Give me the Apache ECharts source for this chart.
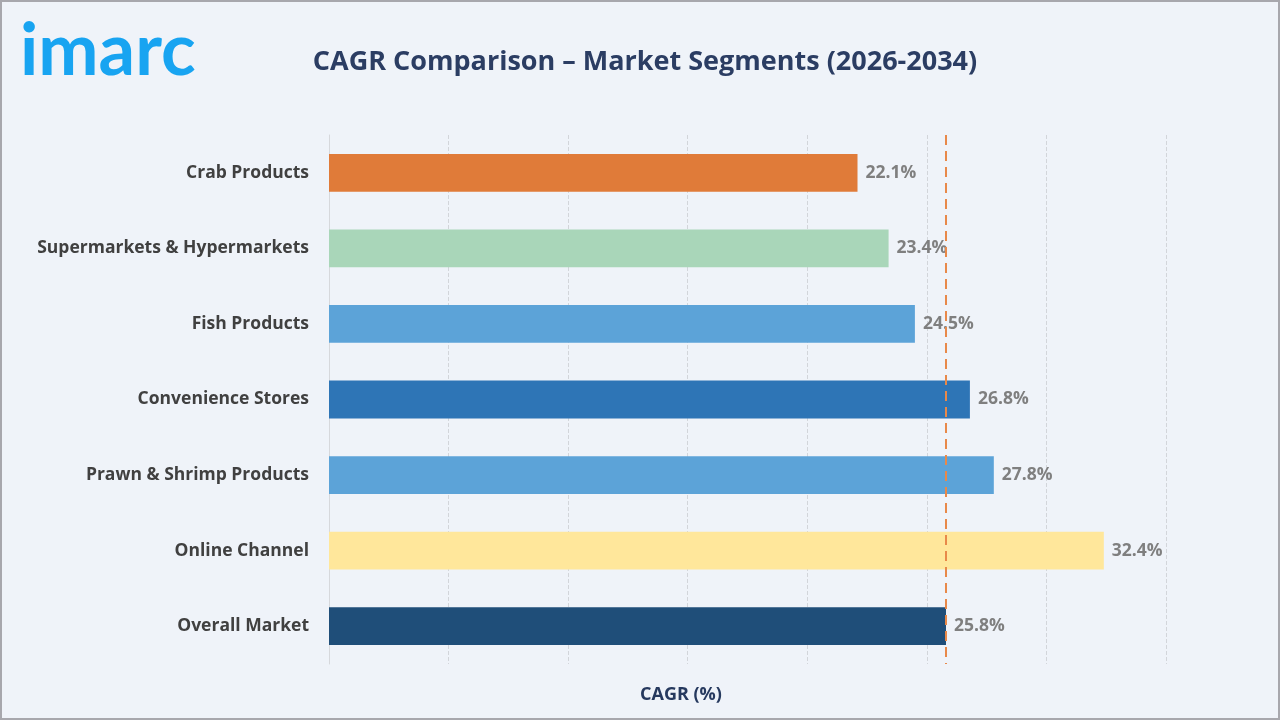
<!DOCTYPE html>
<html>
<head>
<meta charset="utf-8">
<script src="https://cdn.jsdelivr.net/npm/echarts@6/dist/echarts.min.js"></script>
<style>
html,body{margin:0;padding:0;background:#a7a7ad;}
#chart{position:absolute;left:2px;top:2px;width:1276px;height:716px;background:#eff3f9;}
</style>
</head>
<body>
<div id="chart"></div>
<script>
var categories = ['Crab Products', 'Supermarkets & Hypermarkets', 'Fish Products', 'Convenience Stores', 'Prawn & Shrimp Products', 'Online Channel', 'Overall Market'];
var cagrValues = [22.1, 23.4, 24.5, 26.8, 27.8, 32.4, 25.8];
var barColors = ['#e07b39', '#a9d6b9', '#5ca3d8', '#2e75b6', '#5ca3d8', '#ffe79b', '#1f4e79'];
var overallCagr = 25.8;

var myChart = echarts.init(document.getElementById('chart'));
var data = [];
for (var i = 0; i < cagrValues.length; i++) {
    data.push({value: cagrValues[i], itemStyle: {color: barColors[i]}});
}
var option = {
    animation: false,
    textStyle: {fontFamily: 'Open Sans'},
    graphic: [
        {
            type: 'text', left: 18, top: 14,
            style: {text: 'imarc', fill: '#18a4f1', font: 'bold 72px Lato'}
        },
        {
            type: 'text', left: 638, top: 684,
            style: {text: 'CAGR (%)', fill: '#26395e', font: 'bold 18px "Open Sans"', align: 'center'}
        }
    ],
    title: {
        text: 'CAGR Comparison \u2013 Market Segments (2026-2034)',
        left: 638, top: 42, textAlign: 'center',
        textStyle: {color: '#2b3d63', fontSize: 27, fontWeight: 'bold', fontFamily: 'Open Sans'}
    },
    grid: {left: 327, right: 112, top: 133, bottom: 54},
    xAxis: {
        type: 'value', min: 0, max: 35, interval: 5,
        axisLabel: {show: false},
        axisLine: {show: false},
        axisTick: {show: false},
        splitLine: {show: true, lineStyle: {color: '#d2d5da', type: 'dashed', width: 1}}
    },
    yAxis: {
        type: 'category', data: categories, inverse: true,
        axisLine: {show: true, lineStyle: {color: '#d6d8dc'}},
        axisTick: {show: false},
        axisLabel: {color: '#404040', fontSize: 17.5, fontWeight: 'bold', margin: 20}
    },
    series: [{
        type: 'bar',
        data: data,
        barWidth: '50%',
        label: {
            show: true, position: 'right', distance: 8,
            formatter: '{c}%', color: '#7f7f7f', fontSize: 17.5, fontWeight: 'bold'
        },
        markLine: {
            symbol: 'none', silent: true,
            label: {show: false},
            lineStyle: {color: '#e8894a', type: [10, 6], width: 2},
            data: [{xAxis: overallCagr}]
        }
    }]
};
myChart.setOption(option);
</script>
</body>
</html>
